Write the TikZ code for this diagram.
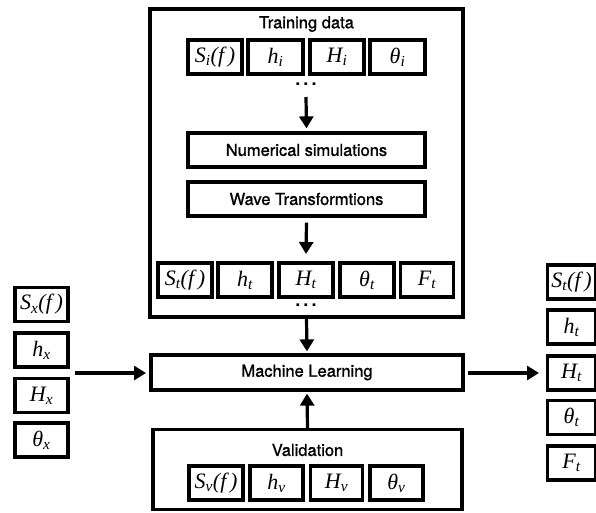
\documentclass[tikz,border=0pt]{standalone}
\usepackage{fontspec}
\setmainfont{TeX Gyre Heros}
\newfontfamily\hvm[FakeBold=1.2]{TeX Gyre Heros}
\newfontfamily\tms{Liberation Serif}
\usetikzlibrary{arrows.meta}
\newcommand\mvar[2]{{\tms\itshape #1\textsubscript{#2}}}
\newcommand\mfun[1]{{\tms\itshape S\textsubscript{#1}(f\,)}}
\tikzset{
  bigbox/.style={draw, line width=3.2pt, fill=white, inner sep=0pt},
  cell/.style={draw, line width=3.2pt, fill=white, inner sep=0pt, minimum height=34pt,
     font=\fontsize{22}{22}\selectfont},
  title/.style={font=\hvm\fontsize{16.5}{16.5}\selectfont, inner sep=0pt},
  procbox/.style={draw, line width=3.2pt, fill=white, inner sep=0pt, minimum width=237pt,
     minimum height=34pt, font=\hvm\fontsize{16.5}{16.5}\selectfont},
  dotsnode/.style={font=\fontsize{18}{18}\selectfont\bfseries, inner sep=0pt},
  arr/.style={line width=3.2pt, -{Triangle[length=12pt,width=14pt]}},
}
\begin{document}
\begin{tikzpicture}[x=1pt,y=-1pt]
\useasboundingbox (0,0) rectangle (596,512);
% training box
\node[bigbox, minimum width=313pt, minimum height=308pt] (train) at (306.5,163) {};
\node[title] (traint) at (306.5,24) {Training data};
\node[cell, minimum width=54pt] (si) at (215,57) {\mfun{i}};
\node[cell, minimum width=55pt] (hi) at (275.5,57) {\mvar{h}{i}};
\node[cell, minimum width=54pt] (Hi) at (337,57) {\mvar{H}{i}};
\node[cell, minimum width=55pt] (ti) at (397.5,57) {\mvar{θ}{i}};
\node[dotsnode] (d1) at (306,84) {.\,.\,.};
\coordinate (a1s) at (306,97);
\node[procbox] (num) at (306.5,150) {Numerical simulations};
\node[procbox] (wave) at (306.5,199) {Wave Transformtions};
\coordinate (a2e) at (306,254);
\node[cell, minimum width=54pt] (st) at (185,280) {\mfun{t}};
\node[cell, minimum width=54pt] (ht) at (245,280) {\mvar{h}{t}};
\node[cell, minimum width=54pt] (Ht) at (306,280) {\mvar{H}{t}};
\node[cell, minimum width=54pt] (tt) at (367,280) {\mvar{θ}{t}};
\node[cell, minimum width=53pt] (Ft) at (427,280) {\mvar{F}{t}};
\node[dotsnode] (d2) at (306,305) {.\,.\,.};
% ML
\node[bigbox, minimum width=312pt, minimum height=35pt, font=\hvm\fontsize{16.5}{16.5}\selectfont] (ml) at (307,372.5) {Machine Learning};
% validation
\node[bigbox, minimum width=309pt, minimum height=80pt] (val) at (307.5,469.5) {};
\node[title] (valt) at (307.5,450) {Validation};
\node[cell, minimum width=54pt] (sv) at (216,483) {\mfun{v}};
\node[cell, minimum width=53pt] (hv) at (276.5,483) {\mvar{h}{v}};
\node[cell, minimum width=52pt] (Hv) at (336.5,483) {\mvar{H}{v}};
\node[cell, minimum width=53pt] (tv) at (396.5,483) {\mvar{θ}{v}};
% left inputs
\node[cell, minimum width=53pt] (sx) at (41.5,304.5) {\mfun{x}};
\node[cell, minimum width=53pt] (hx) at (41.5,350) {\mvar{h}{x}};
\node[cell, minimum width=53pt] (Hx) at (41.5,395.5) {\mvar{H}{x}};
\node[cell, minimum width=53pt] (tx) at (41.5,440) {\mvar{θ}{x}};
\coordinate (ls) at (75,373);
\coordinate (le) at (146,373);
% right outputs
\node[cell, minimum width=48pt] (so) at (571.5,282) {\mfun{t}};
\node[cell, minimum width=48pt] (ho) at (571.5,327) {\mvar{h}{t}};
\node[cell, minimum width=48pt] (Ho) at (571.5,373) {\mvar{H}{t}};
\node[cell, minimum width=48pt] (to) at (571.5,417.5) {\mvar{θ}{t}};
\node[cell, minimum width=48pt] (Fo) at (571.5,463) {\mvar{F}{t}};
\coordinate (rs) at (468,373);
\coordinate (re) at (539,373);
% arrows
\draw[arr] (a1s) -- ([yshift=3pt]num.north);
\draw[arr] ([yshift=-5pt]wave.south) -- (a2e);
\draw[arr] (train.south) -- ([yshift=2pt]ml.north);
\draw[arr] (val.north) -- ([yshift=-2pt]ml.south);
\draw[arr] (ls) -- (le);
\draw[arr] (rs) -- (re);
\end{tikzpicture}
\end{document}
